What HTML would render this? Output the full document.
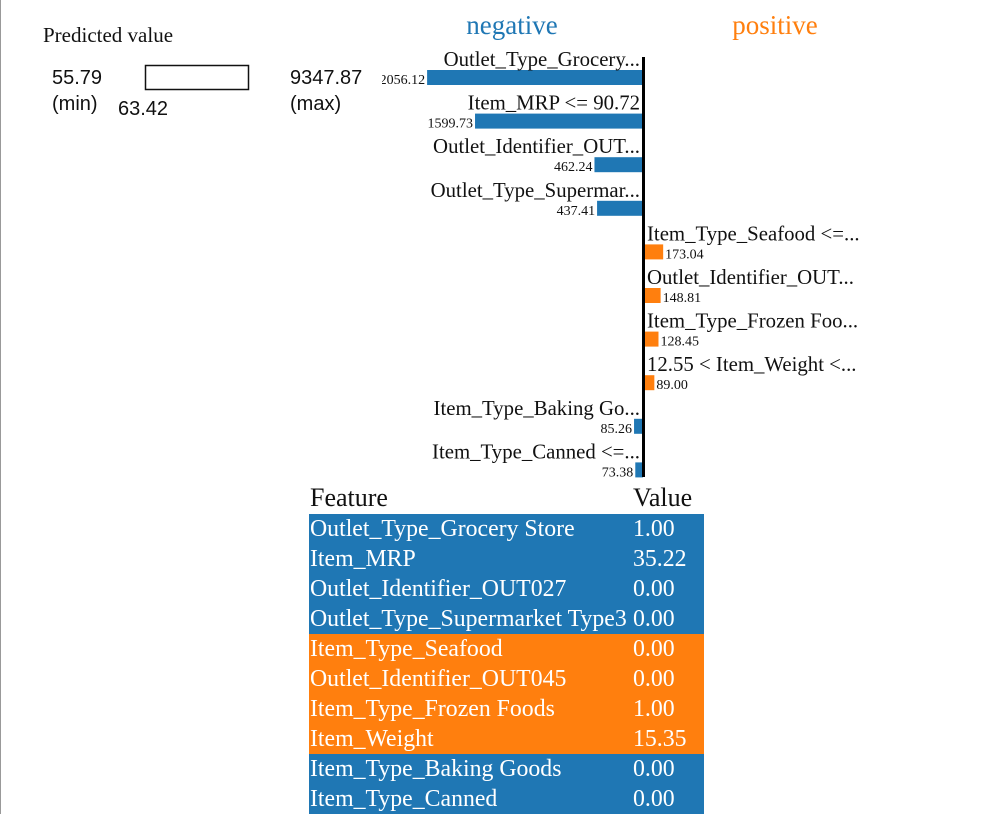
<!DOCTYPE html>
<html><head><meta charset="utf-8"><style>
body{margin:0;width:994px;height:814px;background:#fff;overflow:hidden;position:relative;font-family:"Liberation Serif",serif}
#border{position:absolute;left:0;top:0;width:1px;height:814px;background:#999}
.sans{font-family:"Liberation Sans",sans-serif}
table{position:absolute;left:309px;top:482px;border-collapse:collapse;font-family:"Liberation Serif",serif;font-size:23.8px;color:#fff}
td,th{padding:0 1px;height:30px;line-height:30px;white-space:nowrap;text-align:left}
th{color:#111;font-weight:normal;font-size:26px;height:32px}
tr.neg{background:#1f77b4} tr.pos{background:#ff7f0e}
</style></head><body>
<div id="border"></div>
<svg width="994" height="814" style="position:absolute;left:0;top:0" id="svg">
<defs><clipPath id="clip"><rect x="382" y="0" width="612" height="814"/></clipPath></defs>
<text x="43" y="42" font-size="21" fill="#111">Predicted value</text>
<text x="52" y="84" font-size="20" class="sans" fill="#111">55.79</text>
<text x="52" y="110" font-size="20" class="sans" fill="#111">(min)</text>
<rect x="145.5" y="65.5" width="103" height="24" fill="#fff" stroke="#111" stroke-width="1.5"/>
<text x="118" y="115" font-size="20" class="sans" fill="#111">63.42</text>
<text x="290" y="84" font-size="20" class="sans" fill="#111">9347.87</text>
<text x="290" y="110" font-size="20" class="sans" fill="#111">(max)</text>
<text x="512" y="34" font-size="27" fill="#1f77b4" text-anchor="middle">negative</text>
<text x="775" y="34" font-size="27" fill="#ff7f0e" text-anchor="middle">positive</text>
<g id="bars" clip-path="url(#clip)"></g>
<rect x="642" y="57" width="3" height="420" fill="#000"/>
</svg>
<table>
<tr><th style="width:321px">Feature</th><th style="width:70px">Value</th></tr>
<tr class="neg"><td>Outlet_Type_Grocery Store</td><td>1.00</td></tr>
<tr class="neg"><td>Item_MRP</td><td>35.22</td></tr>
<tr class="neg"><td>Outlet_Identifier_OUT027</td><td>0.00</td></tr>
<tr class="neg"><td>Outlet_Type_Supermarket Type3</td><td>0.00</td></tr>
<tr class="pos"><td>Item_Type_Seafood</td><td>0.00</td></tr>
<tr class="pos"><td>Outlet_Identifier_OUT045</td><td>0.00</td></tr>
<tr class="pos"><td>Item_Type_Frozen Foods</td><td>1.00</td></tr>
<tr class="pos"><td>Item_Weight</td><td>15.35</td></tr>
<tr class="neg"><td>Item_Type_Baking Goods</td><td>0.00</td></tr>
<tr class="neg"><td>Item_Type_Canned</td><td>0.00</td></tr>
</table>
<script>
const labels=["Outlet_Type_Grocery...","Item_MRP <= 90.72","Outlet_Identifier_OUT...","Outlet_Type_Supermar...","Item_Type_Seafood <=...","Outlet_Identifier_OUT...","Item_Type_Frozen Foo...","12.55 < Item_Weight <...","Item_Type_Baking Go...","Item_Type_Canned <=..."];
const weights=[-2056.12,-1599.73,-462.24,-437.41,173.04,148.81,128.45,89.00,-85.26,-73.38];
const NS="http://www.w3.org/2000/svg";
const g=document.getElementById('bars');
const x0=643, sc=0.105, y0=70, step=43.6, bh=15;
function mk(t,a){const e=document.createElementNS(NS,t);for(const k in a)e.setAttribute(k,a[k]);g.appendChild(e);return e;}
weights.forEach((w,i)=>{
  const y=y0+i*step, len=Math.abs(w)*sc, neg=w<0;
  const r=mk('rect',{x:neg?x0-len:x0+2,y:y,width:len,height:bh,fill:neg?'#1f77b4':'#ff7f0e'});
  
  
  const t=mk('text',{x:neg?640:647,y:y-4,'font-size':20.8,fill:'#111','text-anchor':neg?'end':'start','font-family':'Liberation Serif, serif'});
  t.textContent=labels[i];
  
  
  const v=mk('text',{x:neg?x0-len-2:x0+2+len+2,y:y+bh-1,'font-size':14,fill:'#111','text-anchor':neg?'end':'start','font-family':'Liberation Serif, serif'});
  v.textContent=Math.abs(w).toFixed(2);
  
  
});
</script>
</body></html>
